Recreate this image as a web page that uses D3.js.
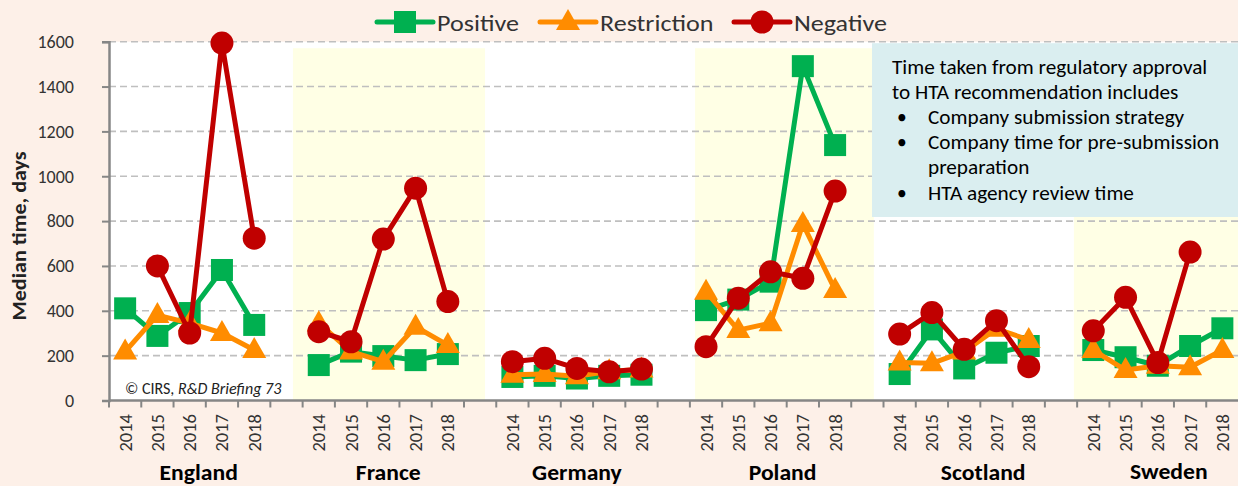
<!DOCTYPE html>
<html>
<head>
<meta charset="utf-8">
<script src="https://cdn.jsdelivr.net/npm/d3@7"></script>
<style>
  html, body { margin: 0; padding: 0; background: #fdf0e8; }
  svg { display: block; font-family: Carlito, Lato, "Open Sans", sans-serif; }
</style>
</head>
<body>
<svg id="chart" width="1238" height="486"></svg>
<script>
// data
const countries = ["England", "France", "Germany", "Poland", "Scotland", "Sweden"];
const years = ["2014", "2015", "2016", "2017", "2018"];
const yTicks = [0, 200, 400, 600, 800, 1000, 1200, 1400, 1600];

const positive = [
  [411, 288, 390, 582, 337],
  [158, 218, 198, 180, 207],
  [105, 110, 98, 110, 115],
  [403, 450, 530, 1491, 1139],
  [118, 317, 143, 213, 243],
  [225, 193, 155, 243, 322]
];
const restriction = [
  [218, 381, 345, 301, 225],
  [345, 218, 173, 329, 247],
  [115, 118, 108, 130, 138],
  [485, 314, 345, 787, 493],
  [169, 166, 218, 320, 270],
  [225, 136, 155, 148, 225]
];
const negative = [
  [null, 600, 301, 1594, 724],
  [307, 262, 720, 947, 441],
  [173, 188, 143, 128, 140],
  [240, 456, 574, 545, 934],
  [296, 392, 228, 356, 151],
  [311, 460, 169, 662, null]
];

const noteLines = [
  {bullet: false, text: "Time taken from regulatory approval"},
  {bullet: false, text: "to HTA recommendation includes"},
  {bullet: true,  text: "Company submission strategy"},
  {bullet: true,  text: "Company time for pre-submission"},
  {bullet: false, text: "preparation", indent: true},
  {bullet: true,  text: "HTA agency review time"}
];

const series = [
  {name: "Positive",    values: positive,    color: "#00b050", shape: "square"},
  {name: "Restriction", values: restriction, color: "#ff8c00", shape: "triangle"},
  {name: "Negative",    values: negative,    color: "#c00000", shape: "circle"}
];

// layout
const pLeft = 109, pRight = 1238.5, pTop = 41.7, pBottom = 400.5;
const shaded = [1, 3, 5];                       // France, Poland, Sweden
const shadeOffsets = {1: [-0.3, 0.65], 3: [0.16, 0.7], 5: [-0.1, 1]};
const labelNudge = [9, 5, 0, 12, 19, 11];
const labelBase = [480, 480, 480, 480, 480, 479];

const svg = d3.select("#chart");

// text that is a little wider than the installed font draws it
function wideText(g, px, py, sx) {
  return g.append("text")
    .attr("transform", "translate(" + px + "," + py + ") scale(" + sx + ",1)");
}

// category slots: five years per country plus an empty spacer between groups
let slots = [];
countries.forEach((c, i) => {
  years.forEach(yr => slots.push(c + "|" + yr));
  if (i < countries.length - 1) slots.push("gap" + i);
});

const x = d3.scaleBand().domain(slots).range([pLeft, pRight]).padding(0);
const y = d3.scaleLinear().domain([0, 1600]).range([pBottom, pTop]);
const bw = x.bandwidth();
const cx = (c, yr) => x(c + "|" + yr) + bw / 2;

// plot area
svg.append("rect")
  .attr("x", pLeft).attr("y", pTop)
  .attr("width", pRight - pLeft).attr("height", pBottom - pTop)
  .attr("fill", "#ffffff");

// shaded country bands
shaded.forEach(i => {
  const c = countries[i];
  const x0 = x(c + "|" + years[0]) + shadeOffsets[i][0] * bw;
  const x1 = Math.min(pRight, x(c + "|" + years[4]) + bw + shadeOffsets[i][1] * bw);
  svg.append("rect")
    .attr("x", x0).attr("y", pTop + 6.5)
    .attr("width", x1 - x0).attr("height", pBottom - pTop - 6.5)
    .attr("fill", "#ffffe5");
});

// gridlines
svg.append("g")
  .selectAll("line")
  .data(yTicks.filter(d => d > 0))
  .enter().append("line")
  .attr("x1", pLeft).attr("x2", pRight)
  .attr("y1", d => y(d)).attr("y2", d => y(d))
  .attr("stroke", "#bfbfbf")
  .attr("stroke-width", 1.6)
  .attr("stroke-dasharray", "7,4");

// note box
const box = svg.append("g");
box.append("rect")
  .attr("x", 872).attr("y", pTop + 1.5)
  .attr("width", 1238 - 872).attr("height", 217 - pTop - 1.5)
  .attr("fill", "#daeef0");
noteLines.forEach((d, i) => {
  const by = 73.5 + i * 25.2;
  wideText(box, (d.bullet || d.indent) ? 928 : 892, by, 1.09)
    .attr("font-size", 19.5)
    .attr("fill", "#000")
    .text(d.text);
  if (d.bullet) {
    box.append("text")
      .attr("x", 897).attr("y", by)
      .attr("font-size", 19.5)
      .text("\u2022");
  }
});

// y axis
const yAxis = d3.axisLeft(y).tickValues(yTicks).tickFormat(d3.format("d"))
  .tickSize(7).tickPadding(28);
const gy = svg.append("g")
  .attr("transform", "translate(" + pLeft + ",0)")
  .call(yAxis);
gy.select(".domain").attr("stroke", "#868686").attr("stroke-width", 2.5);
gy.selectAll(".tick line").attr("stroke", "#868686").attr("stroke-width", 2);
gy.selectAll(".tick text")
  .attr("font-size", 18)
  .attr("font-family", "Carlito, Lato, sans-serif")
  .attr("fill", "#333");

svg.append("text")
  .attr("transform", "translate(26,236) rotate(-90) scale(1.1,1)")
  .attr("text-anchor", "middle")
  .attr("font-size", 20)
  .attr("font-weight", "bold")
  .attr("fill", "#222")
  .text("Median time, days");

// x axis: ticks between every slot
const gx = svg.append("g").attr("transform", "translate(0," + pBottom + ")");
gx.append("line")
  .attr("x1", pLeft).attr("x2", pRight)
  .attr("stroke", "#868686").attr("stroke-width", 2.5);
gx.selectAll("line.tk")
  .data(slots)
  .enter().append("line")
  .attr("class", "tk")
  .attr("x1", d => x(d)).attr("x2", d => x(d))
  .attr("y1", 0).attr("y2", 7)
  .attr("stroke", "#868686").attr("stroke-width", 2);

// year labels
countries.forEach(c => {
  years.forEach(yr => {
    svg.append("text")
      .attr("transform", "translate(" + (cx(c, yr) + 6.5) + ",414) rotate(-90)")
      .attr("text-anchor", "end")
      .attr("font-size", 18.5)
      .attr("fill", "#333")
      .text(yr);
  });
});

// country labels
countries.forEach((c, i) => {
  const mid = (x(c + "|" + years[0]) + x(c + "|" + years[4]) + bw) / 2;
  wideText(svg, mid + labelNudge[i], labelBase[i], 1.1)
    .attr("text-anchor", "middle")
    .attr("font-size", 21.5)
    .attr("font-weight", "bold")
    .attr("fill", "#000")
    .text(c);
});

// copyright
const cp = svg.append("text")
  .attr("x", 125).attr("y", 394)
  .attr("font-size", 16)
  .attr("fill", "#222");
cp.append("tspan").text("\u00a9 CIRS, ");
cp.append("tspan").attr("font-style", "italic").text("R&D Briefing 73");

// markers
function marker(g, shape, color, px, py) {
  if (shape === "square") {
    g.append("rect")
      .attr("x", px - 11).attr("y", py - 11)
      .attr("width", 22).attr("height", 22)
      .attr("fill", color);
  } else if (shape === "triangle") {
    g.append("path")
      .attr("d", "M" + px + "," + (py - 13) + "L" + (px + 12) + "," + (py + 8) + "L" + (px - 12) + "," + (py + 8) + "Z")
      .attr("fill", color);
  } else {
    g.append("circle")
      .attr("cx", px).attr("cy", py).attr("r", 11.5)
      .attr("fill", color);
  }
}

const line = d3.line()
  .defined(d => d.v != null)
  .x(d => d.x)
  .y(d => y(d.v));

series.forEach(s => {
  const g = svg.append("g");
  countries.forEach((c, i) => {
    const pts = years.map((yr, j) => ({x: cx(c, yr), v: s.values[i][j]}));
    g.append("path")
      .datum(pts)
      .attr("d", line)
      .attr("fill", "none")
      .attr("stroke", s.color)
      .attr("stroke-width", 5)
      .attr("stroke-linejoin", "round");
    pts.filter(p => p.v != null).forEach(p => marker(g, s.shape, s.color, p.x, y(p.v)));
  });
});

// legend
const legendPos = [377, 540, 734];
const legend = svg.append("g");
series.forEach((s, i) => {
  const lx = legendPos[i];
  legend.append("line")
    .attr("x1", lx).attr("x2", lx + 56)
    .attr("y1", 22).attr("y2", 22)
    .attr("stroke", s.color).attr("stroke-width", 5)
    .attr("stroke-linecap", "round");
  marker(legend, s.shape, s.color, lx + 28, 22);
  wideText(legend, lx + 60, 30.5, 1.16)
    .attr("font-size", 22.5)
    .attr("fill", "#333")
    .text(s.name);
});
</script>
</body>
</html>
